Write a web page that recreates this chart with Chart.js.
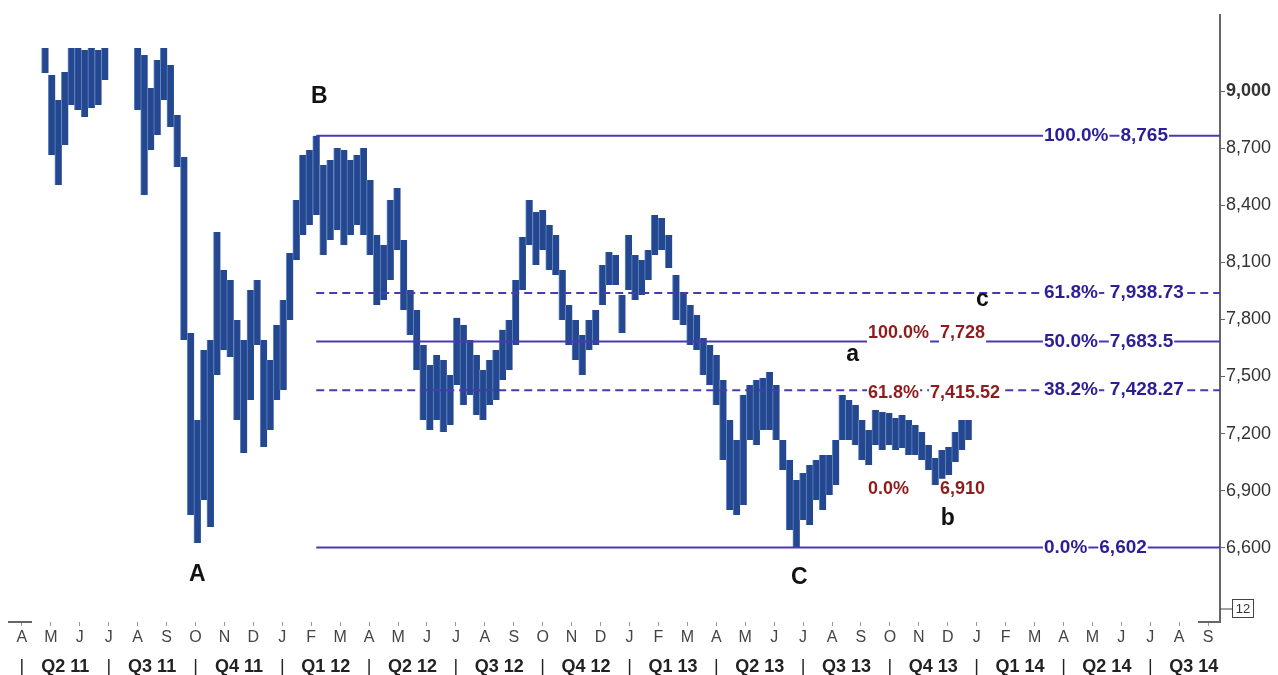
<!DOCTYPE html>
<html>
<head>
<meta charset="utf-8">
<script src="https://cdn.jsdelivr.net/npm/chart.js@4.4.1/dist/chart.umd.min.js"></script>
<style>
  html, body { margin: 0; padding: 0; background: #fff; }
  #wrap { width: 1278px; height: 675px; }
</style>
</head>
<body>
<div id="wrap"><canvas id="chart"></canvas></div>
<script>
// weekly bars, first week starts on this date
const firstWeek = '2011-04-25'
const weekHigh = [
  9230, 9084, 8953, 9100, 9240, 9240, 9215, 9240, 9215, 9300,
  9420, 9450, 9430, 9400, 9300, 9189, 9016, 9163, 9240, 9137,
  8874, 8653, 7729, 7271, 7639, 7692, 8259, 8060, 8007, 7797,
  7692, 7955, 8007, 7692, 7587, 7771, 7902, 8149, 8427, 8664,
  8690, 8765, 8611, 8638, 8701, 8690, 8638, 8664, 8701, 8532,
  8244, 8191, 8427, 8490, 8217, 7955, 7850, 7666, 7561, 7613,
  7587, 7508, 7808, 7771, 7692, 7613, 7534, 7587, 7639, 7745,
  7797, 8007, 8233, 8427, 8364, 8375, 8296, 8244, 8060, 7876,
  7797, 7718, 7797, 7850, 8086, 8154, 8138, 7928, 8244, 8138,
  8112, 8165, 8349, 8333, 8244, 8033, 7944, 7876, 7823, 7702,
  7666, 7613, 7482, 7271, 7166, 7403, 7455, 7482, 7492, 7524,
  7455, 7166, 7061, 6956, 6993, 7035, 7061, 7088, 7088, 7166,
  7403, 7377, 7350, 7271, 7219, 7324, 7314, 7308, 7282, 7298,
  7271, 7245, 7208, 7140, 7072, 7114, 7130, 7208, 7271, 7271
]
const weekLow = [
  9095, 8664, 8506, 8716, 8927, 8900, 8863, 8911, 8927, 9058,
  9250, 9270, 9260, 9240, 8900, 8454, 8690, 8769, 8953, 8811,
  8601, 7692, 6772, 6625, 6851, 6709, 7508, 7639, 7602, 7271,
  7098, 7377, 7666, 7130, 7219, 7377, 7429, 7797, 8112, 8244,
  8296, 8349, 8138, 8217, 8270, 8191, 8244, 8296, 8244, 8138,
  7876, 7902, 8007, 8165, 7850, 7718, 7534, 7271, 7219, 7271,
  7208, 7245, 7455, 7350, 7403, 7298, 7271, 7350, 7377, 7482,
  7534, 7666, 7955, 8191, 8086, 8165, 8060, 8033, 7797, 7666,
  7587, 7508, 7639, 7666, 7876, 7981, 7981, 7729, 7955, 7902,
  7928, 8007, 8138, 8165, 8070, 7797, 7771, 7666, 7639, 7508,
  7455, 7350, 7061, 6799, 6772, 6825, 7166, 7140, 7219, 7219,
  7166, 7009, 6693, 6602, 6746, 6720, 6851, 6799, 6877, 6930,
  7166, 7166, 7140, 7061, 7035, 7140, 7114, 7140, 7114, 7124,
  7088, 7088, 7061, 7009, 6930, 6956, 6982, 7051, 7114, 7166
]
const lastPrice = 7250

const monthLetters = [
  'A','M','J','J','A','S','O','N','D',
  'J','F','M','A','M','J','J','A','S','O','N','D',
  'J','F','M','A','M','J','J','A','S','O','N','D',
  'J','F','M','A','M','J','J','A','S'
]
const quarterNames = ['Q2 11','Q3 11','Q4 11','Q1 12','Q2 12','Q3 12','Q4 12',
  'Q1 13','Q2 13','Q3 13','Q4 13','Q1 14','Q2 14','Q3 14']
const yTicks = [6600, 6900, 7200, 7500, 7800, 8100, 8400, 8700, 9000]

// retracement from B (Feb 12) high to C low
const fibStart = '2012-02-06'
const fibLevels = [8765, 7938.73, 7683.5, 7428.27, 6602]
const fibPcts = ['100.0%', '61.8%', '50.0%', '38.2%', '0.0%']
const fibDashed = [false, true, false, true, false]
// small a-b-c projection
const redLevels = [7728, 7415.52, 6910]
const redPcts = ['100.0%', '61.8%', '0.0%']

const waveNames = ['A', 'B', 'C', 'a', 'b', 'c']
const waveDates = ['2011-10-03', '2012-02-09', '2013-06-27', '2013-08-23', '2013-12-01', '2014-01-07']
const wavePrices = [6460, 8969, 6442, 7613, 6751, 7902]

const family = '"Liberation Sans", Arial, sans-serif'
const xMin = -0.585
const xMax = 41.41

function monthPos(str, addDays) {
  const d = new Date(str + 'T00:00:00Z')
  if (addDays) d.setUTCDate(d.getUTCDate() + addDays)
  const dim = new Date(Date.UTC(d.getUTCFullYear(), d.getUTCMonth() + 1, 0)).getUTCDate()
  return (d.getUTCFullYear() - 2011) * 12 + d.getUTCMonth() - 3 + (d.getUTCDate() - 1) / dim
}

const fmt = v => v.toLocaleString('en-US', {maximumFractionDigits: 2})

const barData = weekHigh.map((h, i) => ({x: monthPos(firstWeek, i * 7), y: [weekLow[i], h]}))
const fibX = monthPos(fibStart)

const datasets = [{
  type: 'bar',
  data: barData,
  backgroundColor: '#24478f',
  borderColor: '#5f8cc8',
  borderWidth: {left: 1, right: 0, top: 0, bottom: 0},
  borderSkipped: false,
  barThickness: 7,
  order: 3
}]
fibLevels.forEach((lv, i) => {
  datasets.push({
    type: 'line',
    data: [{x: fibX, y: lv}, {x: xMax, y: lv}],
    borderColor: '#4b3aad',
    borderWidth: 2,
    borderDash: fibDashed[i] ? [8, 5] : [],
    pointRadius: 0,
    order: 1
  })
})
datasets.push({
  type: 'line',
  data: [{x: 41.62, y: lastPrice}],
  showLine: false,
  pointStyle: 'rectRot',
  pointRadius: 4,
  pointBackgroundColor: '#1f3f8a',
  pointBorderColor: '#1f3f8a',
  clip: false,
  order: 0
})

function tag(ctx, text, px, py, color) {
  const w = ctx.measureText(text).width
  ctx.fillStyle = '#fff'
  ctx.fillRect(px - 1, py - 10, w + 2, 20)
  ctx.fillStyle = color
  ctx.fillText(text, px, py)
  return w
}

const overlay = {
  id: 'overlay',
  afterDatasetsDraw(chart) {
    const {ctx, chartArea, scales: {x, y}} = chart
    const r = chartArea.right
    ctx.save()
    ctx.textBaseline = 'middle'
    ctx.textAlign = 'left'
    ctx.font = 'bold 19px ' + family
    fibLevels.forEach((lv, i) => {
      const py = y.getPixelForValue(lv)
      const w = tag(ctx, fibPcts[i], r - 176, py, '#2b1f98')
      tag(ctx, fmt(lv), r - 176 + w + 12, py, '#2b1f98')
    })
    ctx.font = 'bold 18px ' + family
    redLevels.forEach((lv, i) => {
      const py = y.getPixelForValue(lv)
      tag(ctx, redPcts[i], r - 352, py, '#8e1c1c')
      tag(ctx, fmt(lv), r - (i === 1 ? 290 : 280), py, '#8e1c1c')
    })
    ctx.fillStyle = '#111'
    ctx.textAlign = 'center'
    ctx.font = 'bold 23px ' + family
    waveNames.forEach((t, i) => {
      ctx.fillText(t, x.getPixelForValue(monthPos(waveDates[i])), y.getPixelForValue(wavePrices[i]))
    })
    ctx.restore()
  },
  afterDraw(chart) {
    const {ctx, chartArea} = chart
    const r = chartArea.right, b = chartArea.bottom
    ctx.save()
    ctx.strokeStyle = '#666'
    ctx.lineWidth = 2
    ctx.beginPath()
    ctx.moveTo(r, 14); ctx.lineTo(r, chartArea.top)
    ctx.moveTo(r - 22, b); ctx.lineTo(r, b)
    ctx.moveTo(8, b); ctx.lineTo(32, b)
    ctx.stroke()
    ctx.lineWidth = 1
    ctx.strokeStyle = '#444'
    ctx.beginPath()
    ctx.moveTo(r, b - 13); ctx.lineTo(r + 12, b - 13)
    ctx.stroke()
    ctx.strokeRect(r + 12.5, b - 22.5, 21, 18)
    ctx.fillStyle = '#333'
    ctx.font = '13px ' + family
    ctx.textAlign = 'center'
    ctx.textBaseline = 'middle'
    ctx.fillText('12', r + 23, b - 13)
    ctx.restore()
  }
}

new Chart(document.getElementById('chart'), {
  type: 'bar',
  data: {datasets},
  plugins: [overlay],
  options: {
    responsive: true,
    maintainAspectRatio: false,
    animation: false,
    layout: {padding: {top: 48, left: 0, right: 0, bottom: 0}},
    plugins: {legend: {display: false}, tooltip: {enabled: false}},
    scales: {
      x: {
        type: 'linear', min: xMin, max: xMax, offset: false,
        afterBuildTicks: a => { a.ticks = monthLetters.map((_, i) => ({value: i})) },
        afterFit: a => { a.height = 26 },
        border: {display: false},
        grid: {drawOnChartArea: false, tickLength: 4, color: '#999', offset: false},
        ticks: {autoSkip: false, maxRotation: 0, padding: 2, color: '#444',
          font: {family, size: 16}, callback: v => monthLetters[v]}
      },
      x2: {
        type: 'linear', position: 'bottom', min: xMin, max: xMax, offset: false,
        afterBuildTicks: a => {
          const t = []
          quarterNames.forEach((q, i) => { t.push({value: i * 3}); t.push({value: i * 3 + 1.5}) })
          a.ticks = t
        },
        afterFit: a => { a.height = 27 },
        border: {display: false},
        grid: {display: false},
        ticks: {autoSkip: false, maxRotation: 0, padding: 0, color: '#222',
          font: c => ({family, size: 18, weight: c.tick && c.tick.value % 3 === 0 ? 'normal' : 'bold'}),
          callback: v => v % 3 === 0 ? '|' : quarterNames[(v - 1.5) / 3]}
      },
      y: {
        position: 'right', min: 6210, max: 9226,
        afterBuildTicks: a => { a.ticks = yTicks.map(v => ({value: v})) },
        afterFit: a => { a.width = 58 },
        border: {display: true, color: '#666', width: 2},
        grid: {drawOnChartArea: false, tickLength: 5, color: '#666'},
        ticks: {padding: 1, color: '#333',
          font: c => ({family, size: 18, weight: c.tick && c.tick.value === 9000 ? 'bold' : 'normal'}),
          callback: v => v.toLocaleString('en-US')}
      }
    }
  }
})
</script>
</body>
</html>
